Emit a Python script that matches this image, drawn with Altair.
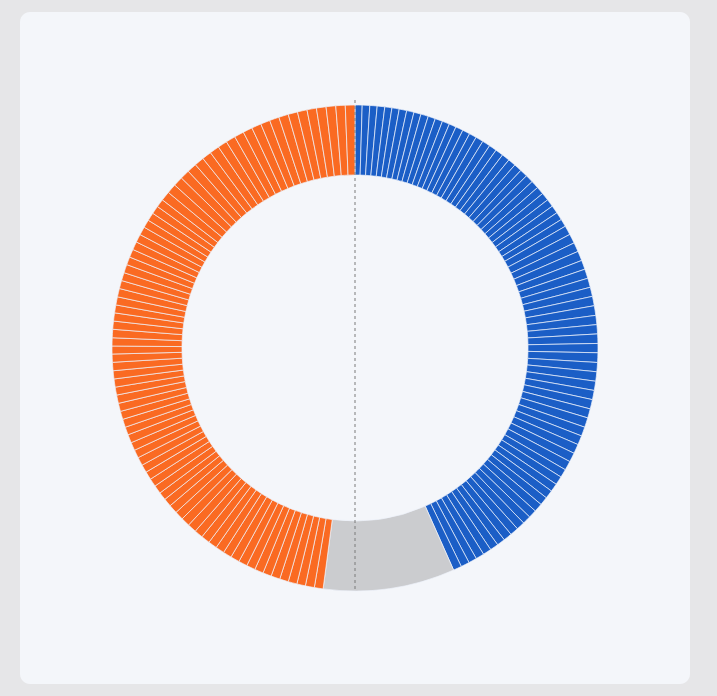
import altair as alt
import pandas as pd

# Segment sizes (degrees of arc), clockwise from the top
blue_segments = [
    1.7, 1.8, 1.75, 1.8, 1.7, 1.75, 1.8, 1.75, 1.7, 1.8, 1.75, 1.8, 1.75, 1.7, 1.8, 1.8, 1.75,
    1.85, 1.9, 1.85, 1.9, 1.9, 1.85, 1.9, 1.85, 1.9, 1.9, 1.85, 1.9, 1.85, 1.9, 1.9, 1.85,
    2.2, 2.25, 2.2, 2.3, 2.2, 2.25, 2.2, 2.2, 2.25, 2.3, 2.2, 2.2, 2.25, 2.2, 2.3, 2.2, 2.25,
    2.2, 2.2, 2.25, 2.2, 2.3, 2.2, 2.2, 2.25, 2.2, 2.2,
    2.0, 2.05, 1.95, 2.0, 2.0, 2.05, 1.95, 2.0, 2.0, 2.0, 2.05, 1.95, 2.0, 2.0, 2.0, 1.95, 2.05, 2.0,
]
grey_segments = [31.5]
orange_segments = [
    2.1, 2.15, 2.05, 2.1, 2.1, 2.15, 2.05, 2.1, 2.1, 2.1, 2.15, 2.05, 2.1, 2.1, 2.1, 2.05, 2.15, 2.1, 2.1, 2.1,
    1.95, 1.9, 2.0, 1.95, 1.95, 1.9, 2.0, 1.95, 1.95, 2.0, 1.9, 1.95, 1.95, 1.95, 2.0, 1.9, 1.95, 1.95, 2.0, 1.95,
    1.9, 1.95, 2.0, 1.95, 1.95, 1.9, 1.95, 2.0, 1.95, 1.95, 2.0, 1.9, 1.95, 1.95, 1.95, 2.0, 1.9, 1.95, 1.95, 1.95,
    2.25, 2.3, 2.3, 2.25, 2.3, 2.3, 2.25, 2.3, 2.25, 2.3, 2.3, 2.25, 2.3, 2.25, 2.3, 2.3, 2.25, 2.3, 2.25, 2.3,
    2.3, 2.25, 2.3,
]

groups = ["Blue", "Other", "Orange"]
colors = ["#1b5ec6", "#cbcccf", "#fa6a22"]

rows = []
idx = 0
for name, segs in zip(groups, [blue_segments, grey_segments, orange_segments]):
    for v in segs:
        rows.append({"idx": idx, "group": name, "value": v})
        idx += 1
df = pd.DataFrame(rows)

W, H = 670, 672

ring = alt.Chart(df).mark_arc(
    innerRadius=173, outerRadius=243, stroke="#eef2fa", strokeWidth=0.7
).encode(
    theta=alt.Theta("value:Q", stack=True),
    order=alt.Order("idx:Q"),
    color=alt.Color("group:N", scale=alt.Scale(domain=groups, range=colors), legend=None),
)

divider = alt.Chart(pd.DataFrame({"k": [0]})).mark_rule(
    color="#7a7a7a", strokeDash=[3, 3], strokeWidth=1
).encode(
    x=alt.value(W / 2),
    y=alt.value(88),
    y2=alt.value(580),
)

chart = alt.layer(ring, divider).properties(
    width=W,
    height=H,
    padding={"left": 20, "top": 12, "right": 27, "bottom": 12},
    background="#e6e6e8",
).configure_view(
    fill="#f4f6fa", stroke=None, cornerRadius=10
)

chart.save("out.html", embed_options={"renderer": "svg", "actions": False})
